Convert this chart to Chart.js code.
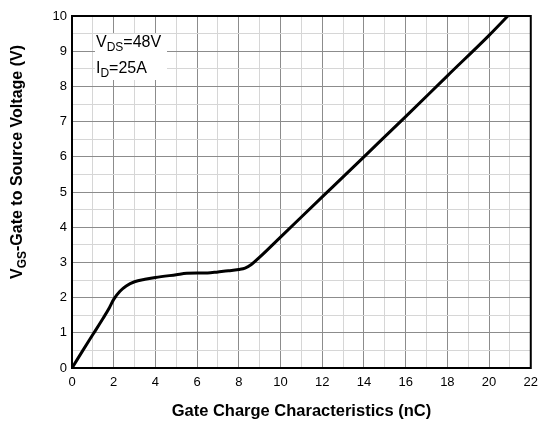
<!DOCTYPE html>
<html>
<head>
<meta charset="utf-8">
<script src="https://cdn.jsdelivr.net/npm/chart.js@4"></script>
<style>
  html, body { margin: 0; padding: 0; background: #fff; }
  #wrap { width: 545px; height: 423px; }
</style>
</head>
<body>
<div id="wrap"><canvas id="gateChart" width="545" height="423"></canvas></div>
<script>
// gate charge curve
const chargeNC = [0, 0.5, 1, 1.5, 1.8, 2, 2.3, 2.6, 3, 3.5, 4, 5, 5.5, 6, 6.5, 7, 7.5, 8, 8.3, 8.6, 9, 10, 12, 14, 16, 18, 20, 20.9];
const vgsVolts = [0, 0.48, 0.95, 1.42, 1.72, 1.95, 2.18, 2.33, 2.45, 2.52, 2.57, 2.65, 2.69, 2.7, 2.7, 2.73, 2.76, 2.8, 2.84, 2.94, 3.15, 3.72, 4.86, 6.0, 7.14, 8.3, 9.45, 10];
const xTicks = [0, 2, 4, 6, 8, 10, 12, 14, 16, 18, 20, 22];
const yTicks = [0, 1, 2, 3, 4, 5, 6, 7, 8, 9, 10];

const FONT = "'Liberation Sans', Arial, sans-serif";

// draws text runs with optional subscript parts
function drawRuns(ctx, runs, x, y, size, bold) {
    let cx = x;
    runs.forEach(r => {
        const s = r.sub ? Math.round(size * 0.72) : size;
        ctx.font = (bold ? "bold " : "") + s + "px " + FONT;
        ctx.fillText(r.t, cx, r.sub ? y + size * 0.28 : y);
        cx += ctx.measureText(r.t).width;
    });
    return cx - x;
}
function measureRuns(ctx, runs, size, bold) {
    let w = 0;
    runs.forEach(r => {
        const s = r.sub ? Math.round(size * 0.72) : size;
        ctx.font = (bold ? "bold " : "") + s + "px " + FONT;
        w += ctx.measureText(r.t).width;
    });
    return w;
}

const decorPlugin = {
    id: "decor",
    afterDraw(chart) {
        const ctx = chart.ctx;
        const a = chart.chartArea;
        ctx.save();

        // frame
        ctx.strokeStyle = "#000";
        ctx.lineWidth = 2;
        ctx.strokeRect(a.left, a.top, a.right - a.left, a.bottom - a.top);

        // condition box
        ctx.fillStyle = "#fff";
        ctx.fillRect(95, 34, 72, 46);
        ctx.fillStyle = "#000";
        ctx.textBaseline = "alphabetic";
        ctx.textAlign = "left";
        drawRuns(ctx, [{ t: "V" }, { t: "DS", sub: true }, { t: "=48V" }], 96, 47, 16, false);
        drawRuns(ctx, [{ t: "I" }, { t: "D", sub: true }, { t: "=25A" }], 96, 73, 16, false);

        // x axis title
        ctx.font = "bold 16.5px " + FONT;
        ctx.textAlign = "center";
        ctx.fillText("Gate Charge Characteristics (nC)", (a.left + a.right) / 2, 416);

        // y axis title, rotated
        const yRuns = [{ t: "V" }, { t: "GS", sub: true }, { t: "-Gate to Source Voltage (V)" }];
        ctx.translate(22, 162);
        ctx.rotate(-Math.PI / 2);
        ctx.textAlign = "left";
        const w = measureRuns(ctx, yRuns, 16, true);
        drawRuns(ctx, yRuns, -w / 2, 0, 16, true);
        ctx.restore();
    }
};

new Chart(document.getElementById("gateChart"), {
    type: "line",
    data: {
        datasets: [{
            data: chargeNC.map((q, i) => ({ x: q, y: vgsVolts[i] })),
            borderColor: "#000",
            borderWidth: 3,
            pointRadius: 0,
            fill: false,
            cubicInterpolationMode: "monotone"
        }]
    },
    options: {
        responsive: false,
        animation: false,
        layout: { padding: { top: 16, right: 2, left: 0, bottom: 0 } },
        plugins: {
            legend: { display: false },
            tooltip: { enabled: false }
        },
        scales: {
            x: {
                type: "linear",
                min: 0,
                max: 22,
                afterFit(scale) { scale.height = 55; },
                grid: {
                    drawTicks: false,
                    color: ctx => (ctx.tick && ctx.tick.value % 2 === 0) ? "#8c8c8c" : "#d6d6d6",
                    lineWidth: 1
                },
                border: { display: false },
                ticks: {
                    stepSize: 1,
                    padding: 7,
                    color: "#000",
                    font: { family: FONT, size: 13 },
                    callback: v => xTicks.includes(v) ? String(v) : "",
                    maxRotation: 0,
                    autoSkip: false
                }
            },
            y: {
                min: 0,
                max: 10,
                afterFit(scale) { scale.width = 72; },
                grid: {
                    drawTicks: false,
                    color: ctx => (ctx.tick && Number.isInteger(ctx.tick.value)) ? "#8c8c8c" : "#d6d6d6",
                    lineWidth: 1
                },
                border: { display: false },
                ticks: {
                    stepSize: 0.5,
                    padding: 5,
                    color: "#000",
                    font: { family: FONT, size: 13 },
                    callback: v => yTicks.includes(v) ? String(v) : "",
                    autoSkip: false
                }
            }
        }
    },
    plugins: [decorPlugin]
});
</script>
</body>
</html>
